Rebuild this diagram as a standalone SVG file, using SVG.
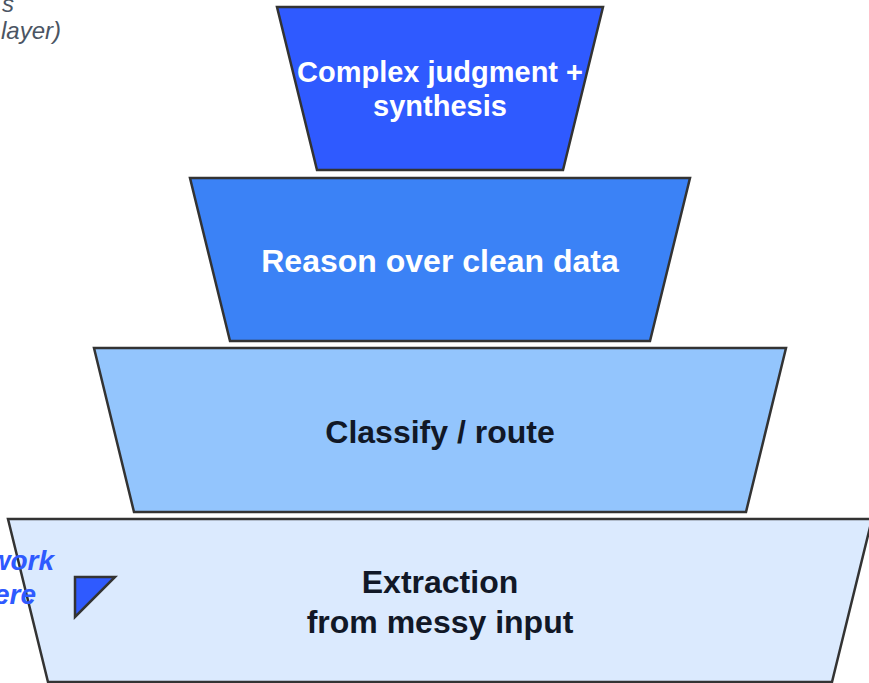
<svg xmlns="http://www.w3.org/2000/svg" width="869" height="683" viewBox="0 0 869 683">
<style>
.layer{stroke:#333333;stroke-width:2.5;stroke-linejoin:miter}
.t{font-family:"Liberation Sans",Arial,sans-serif;font-weight:bold;text-anchor:middle}
.w{fill:#ffffff}
.d{fill:#111827}
.note{font-family:"Liberation Sans",Arial,sans-serif;font-style:italic}
</style>
<rect width="869" height="683" fill="#ffffff"/>
<g id="note-top">
<text class="note" x="14" y="12" font-size="24" fill="#4b5563" text-anchor="end">s</text>
<text class="note" x="61" y="39" font-size="24" fill="#4b5563" text-anchor="end">layer)</text>
</g>
<g id="layer1">
<polygon class="layer" fill="#2f5aff" points="277,7 603,7 563,170 317,170"/>
<text class="t w" x="440" y="82" font-size="29">Complex judgment +</text>
<text class="t w" x="440" y="116" font-size="29">synthesis</text>
</g>
<g id="layer2">
<polygon class="layer" fill="#3b82f6" points="190,178 690,178 650,341 230,341"/>
<text class="t w" x="440" y="272" font-size="32">Reason over clean data</text>
</g>
<g id="layer3">
<polygon class="layer" fill="#93c5fd" points="94,348 786,348 746,512 134,512"/>
<text class="t d" x="440" y="443" font-size="32">Classify / route</text>
</g>
<g id="layer4">
<polygon class="layer" fill="#dbeafe" points="8,519 872,519 832,682 48,682"/>
<text class="t d" x="440" y="593" font-size="32">Extraction</text>
<text class="t d" x="440" y="633" font-size="32">from messy input</text>
</g>
<g id="note-left">
<text class="note" x="54" y="570" font-size="28" font-weight="bold" fill="#2f5aff" text-anchor="end">work</text>
<text class="note" x="36" y="604" font-size="28" font-weight="bold" fill="#2f5aff" text-anchor="end">ere</text>
</g>
<g id="connectors">
<polygon id="pointer" points="75,577 115,577 75,617" fill="#2f5aff" stroke="#333333" stroke-width="2.5"/>
</g>
</svg>
